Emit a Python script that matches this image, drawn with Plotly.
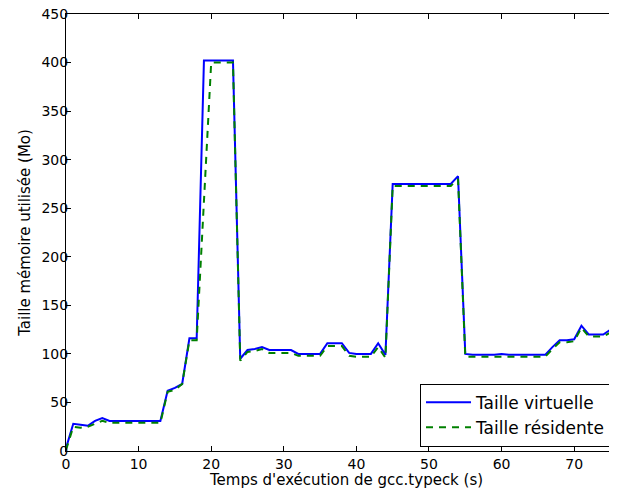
import plotly.graph_objects as go

# time in seconds (one sample per second)
temps = list(range(0, 77))

# virtual size (Mo)
taille_virtuelle = [
    3, 28, 27, 26, 31, 34, 31, 31, 31, 31,
    31, 31, 31, 31, 62, 65, 69, 116, 116, 402,
    402, 402, 402, 402, 95, 104, 105, 107, 104, 104,
    104, 104, 100, 100, 100, 100, 111, 111, 111, 101,
    100, 100, 100, 111, 99, 275, 275, 275, 275, 275,
    275, 275, 275, 275, 283, 100, 99, 99, 99, 99,
    100, 99, 99, 99, 99, 99, 99, 107, 114, 114,
    115, 129, 120, 120, 120, 125, 124,
]

# resident size (Mo)
taille_residente = [
    1, 25, 24, 25, 28, 31, 29, 29, 29, 29,
    29, 29, 29, 29, 61, 63, 69, 114, 114, 260,
    400, 400, 400, 400, 93, 102, 103, 105, 101, 101,
    101, 101, 98, 98, 98, 98, 108, 108, 108, 98,
    97, 97, 97, 107, 96, 273, 273, 273, 273, 273,
    273, 273, 273, 273, 280, 97, 97, 97, 97, 97,
    97, 97, 97, 97, 97, 97, 97, 105, 112, 112,
    113, 127, 118, 118, 118, 122, 122,
]

x_ticks = [0, 10, 20, 30, 40, 50, 60, 70]
y_ticks = [0, 50, 100, 150, 200, 250, 300, 350, 400, 450]

FONT = "DejaVu Sans"

fig = go.Figure()

fig.add_trace(go.Scatter(
    x=temps, y=taille_virtuelle, mode="lines",
    name="Taille virtuelle",
    line=dict(color="#0000ff", width=2),
))
fig.add_trace(go.Scatter(
    x=temps, y=taille_residente, mode="lines",
    name="Taille résidente",
    line=dict(color="#008000", width=2, dash="7px,6px"),
))

axis_style = dict(
    showgrid=False, zeroline=False, automargin=False,
    showline=True, linecolor="black", linewidth=1,
    ticks="inside", ticklen=5, tickcolor="black",
    ticklabeloverflow="allow",
    tickfont=dict(family=FONT, size=14, color="black"),
)

# the page body adds 8px on the left and top, margins are set for that;
# the plot runs a little past the right edge of the window, as in the original
fig.update_xaxes(range=[0, 77], tickvals=x_ticks, mirror="ticks", **axis_style)
fig.update_yaxes(range=[0, 450], tickvals=y_ticks, mirror="ticks",
                 ticklabelstandoff=-6,
                 title=dict(text="Taille mémoire utilisée (Mo)",
                            font=dict(family=FONT, size=15, color="black"),
                            standoff=7),
                 **axis_style)

fig.add_annotation(
    text="Temps d'exécution de gcc.typeck (s)",
    xref="paper", yref="paper", x=0.5, y=-0.0664,
    xanchor="center", yanchor="middle", showarrow=False,
    font=dict(family=FONT, size=15, color="black"),
)

fig.update_layout(
    width=617, height=494,
    margin=dict(l=58, r=0, t=6, b=51),
    plot_bgcolor="white", paper_bgcolor="white",
    font=dict(family=FONT, color="black"),
    legend=dict(
        x=0.6333, y=0.01, xanchor="left", yanchor="bottom",
        itemwidth=45,
        bgcolor="white", bordercolor="black", borderwidth=1,
        font=dict(family=FONT, size=17, color="black"),
    ),
)

fig.write_html("out.html")
